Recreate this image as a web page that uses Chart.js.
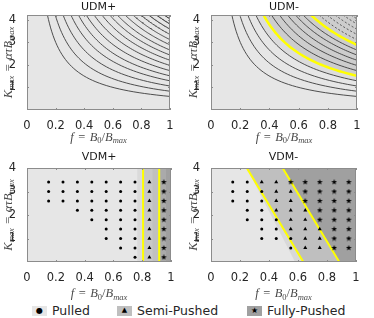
<!DOCTYPE html>
<html>
<head>
<meta charset="utf-8">
<script src="https://cdn.jsdelivr.net/npm/chart.js@4.4.1/dist/chart.umd.min.js"></script>
<style>
	body { margin: 0; background: #fff; width: 374px; height: 318px; position: relative; overflow: hidden; font-family: "DejaVu Sans", sans-serif; }
	.pane { position: absolute; width: 187px; height: 150px; }
	#legend { position: absolute; left: 0; top: 303px; width: 374px; height: 15px; font-size: 12.5px; color: #262626; }
	.item { position: absolute; top: 0; height: 15px; display: flex; align-items: center; }
	.sw { width: 15px; height: 10px; margin-right: 5px; display: flex; align-items: center; justify-content: center; color: #000; line-height: 1; }
</style>
</head>
<body>
<div class="pane" style="left:0;top:0"><canvas id="udmPlus"></canvas></div>
<div class="pane" style="left:187px;top:0"><canvas id="udmMinus"></canvas></div>
<div class="pane" style="left:0;top:150px"><canvas id="vdmPlus"></canvas></div>
<div class="pane" style="left:187px;top:150px"><canvas id="vdmMinus"></canvas></div>
<div id="legend">
	<div class="item" style="left:32px"><span class="sw" style="background:#e6e6e6;font-size:8px">●</span>Pulled</div>
	<div class="item" style="left:117px"><span class="sw" style="background:#bfbfbf;font-size:7px">▲</span>Semi-Pushed</div>
	<div class="item" style="left:247px"><span class="sw" style="background:#a0a0a0;font-size:8px">★</span>Fully-Pushed</div>
</div>
<script>
// Axis ticks
const xTicks = [0, 0.2, 0.4, 0.6, 0.8, 1];
const yTicks = [1, 2, 3, 4];

// UDM panels: contour levels of f*K (read where each curve meets the right edge f = 1)
const udmLevels = [0.60, 0.83, 1.06, 1.29, 1.51, 1.74, 1.97, 2.20, 2.43, 2.65, 2.88, 3.11, 3.34, 3.57, 3.80, 4.03];
const udmMinusYellow = [4, 10];   // indexes of the highlighted (yellow) levels
const udmMinusDashedFrom = 11;    // levels from this index on are dashed

// VDM panels: sample grid
const fCols = [0.15, 0.25, 0.35, 0.45, 0.55, 0.65, 0.75, 0.85, 0.95];
const kRows = [3.4, 3.0, 2.6, 2.2, 1.8, 1.4, 1.0, 0.6, 0.2];
// o = pulled, t = semi-pushed, s = fully-pushed, . = none
const vdmPlusGrid = [
	'ooooooots',
	'ooooooots',
	'ooooooots',
	'..ooooots',
	'...oooots',
	'....ooots',
	'....ooots',
	'.....oots',
	'......ots'
];
const vdmMinusGrid = [
	'oottsssss',
	'ooottssss',
	'ooottssss',
	'.ootttsss',
	'.ooottsss',
	'..ootttss',
	'..ooottss',
	'....ottss',
	'.........'
];
// VDM+ transitions (vertical), VDM- transitions (f at K = 4, f at K = 0)
const vdmPlusBounds = [0.806, 0.918];
const vdmMinusLine1 = [0.247, 0.637];
const vdmMinusLine2 = [0.494, 0.885];

// Colours
const PULLED = '#e6e6e6', SEMI = '#bfbfbf', FULLY = '#a0a0a0';
const udmMinusBandColors = [null, null, null, '#dcdcdc', '#cdcdcd', '#c7c7c7', '#c2c2c2', '#bdbdbd', '#b8b8b8', '#b3b3b3',
	'#a7a7a7', '#a1a1a1', '#9b9b9b', '#959595', '#8f8f8f', '#898989'];

// filled 5-point star for markers
function starImage(size) {
	const c = document.createElement('canvas');
	c.width = size; c.height = size;
	const g = c.getContext('2d');
	const r = size / 2, ri = r * 0.42;
	g.beginPath();
	for (let i = 0; i < 10; i++) {
		const a = -Math.PI / 2 + i * Math.PI / 5;
		const rr = i % 2 ? ri : r;
		g.lineTo(r + rr * Math.cos(a), r + rr * Math.sin(a));
	}
	g.closePath();
	g.fillStyle = '#000';
	g.fill();
	return c;
}
const starMark = starImage(6);

// contour of f*K = level, from the top edge to f = 1
function contour(level, kTop) {
	const f0 = level / kTop, pts = [];
	for (let j = 0; j <= 40; j++) {
		const f = f0 * Math.pow(1 / f0, j / 40);
		pts.push({ x: f, y: level / f });
	}
	return pts;
}

function gridPoints(grid, ch) {
	const pts = [];
	grid.forEach((row, r) => {
		for (let c = 0; c < row.length; c++) {
			if (row[c] === ch) pts.push({ x: fCols[c], y: kRows[r] });
		}
	});
	return pts;
}

function markerSets(grid) {
	return [
		{ data: gridPoints(grid, 'o'), showLine: false, pointStyle: 'circle', pointRadius: 1.5, pointBackgroundColor: '#000', pointBorderWidth: 0, order: -10 },
		{ data: gridPoints(grid, 't'), showLine: false, pointStyle: 'triangle', pointRadius: 2.3, pointBackgroundColor: '#000', pointBorderWidth: 0, order: -10 },
		{ data: gridPoints(grid, 's'), showLine: false, pointStyle: starMark, pointRadius: 3, order: -10 }
	];
}

function region(points, color, order) {
	return { data: points, showLine: true, borderColor: 'transparent', borderWidth: 1, pointRadius: 0, fill: 'end', backgroundColor: color, order: order };
}

function yellowLine(points, width) {
	return { data: points, showLine: true, borderColor: '#ffff00', borderWidth: width, pointRadius: 0, fill: false, order: -5 };
}

// rich text for the LaTeX-style axis labels
const xLabelParts = [['f', 'i'], ['=', 'r'], ['B', 'i'], ['0', 's'], ['/', 'o'], ['B', 'i'], ['max', 'si']];
const yLabelParts = [['K', 'i'], ['max', 'si'], ['=', 'r'], ['α', 'i'], ['τ', 'i'], ['B', 'i'], ['max', 'si']];
const SERIF = '"Liberation Serif", serif';

function partFont(kind) {
	if (kind === 'i') return 'italic 12.5px ' + SERIF;
	if (kind === 'r' || kind === 'o') return '12.5px ' + SERIF;
	if (kind === 's') return '8.5px ' + SERIF;
	return 'italic 8.5px ' + SERIF;
}

function drawRich(ctx, parts, cx, cy, angle) {
	ctx.save();
	ctx.translate(cx, cy);
	ctx.rotate(angle);
	const gap = p => (p[1] === 'r' ? 4.5 : 0);
	let total = 0;
	parts.forEach(p => { ctx.font = partFont(p[1]); total += ctx.measureText(p[0]).width + 2 * gap(p); });
	let x = -total / 2;
	ctx.textBaseline = 'alphabetic';
	ctx.textAlign = 'left';
	ctx.fillStyle = '#4a4a4a';
	parts.forEach(p => {
		ctx.font = partFont(p[1]);
		x += gap(p);
		const dy = p[1][0] === 's' ? 6.5 : 4;
		ctx.fillText(p[0], x, dy);
		x += ctx.measureText(p[0]).width + gap(p);
	});
	ctx.restore();
}

const decor = {
	id: 'decor',
	beforeDraw(chart) {
		const { ctx, chartArea: a } = chart;
		ctx.save();
		ctx.fillStyle = PULLED;
		ctx.fillRect(a.left, a.top, a.width, a.height);
		ctx.restore();
	},
	afterDraw(chart, args, o) {
		const { ctx, chartArea: a, scales } = chart;
		ctx.save();
		ctx.strokeStyle = '#8c8c8c';
		ctx.lineWidth = 1;
		ctx.beginPath();
		scales.x.ticks.forEach(t => {
			const px = Math.round(scales.x.getPixelForValue(t.value)) + 0.5;
			ctx.moveTo(px, a.bottom); ctx.lineTo(px, a.bottom - 2);
			ctx.moveTo(px, a.top); ctx.lineTo(px, a.top + 2);
		});
		scales.y.ticks.forEach(t => {
			const py = Math.round(scales.y.getPixelForValue(t.value)) + 0.5;
			ctx.moveTo(a.left, py); ctx.lineTo(a.left + 2, py);
			ctx.moveTo(a.right, py); ctx.lineTo(a.right - 2, py);
		});
		ctx.stroke();
		ctx.strokeRect(Math.round(a.left) + 0.5, Math.round(a.top) + 0.5, Math.round(a.width) - 1, Math.round(a.height) - 1);

		ctx.fillStyle = '#1a1a1a';
		ctx.font = '11px "DejaVu Sans"';
		ctx.textAlign = 'center';
		ctx.textBaseline = 'middle';
		ctx.fillText(o.title, (a.left + a.right) / 2, o.titleY);

		drawRich(ctx, xLabelParts, (a.left + a.right) / 2, o.xLabelY, 0);
		drawRich(ctx, yLabelParts, o.yLabelX, (a.top + a.bottom) / 2, -Math.PI / 2);
		ctx.restore();
	}
};

function makeChart(id, datasets, p) {
	new Chart(document.getElementById(id), {
		type: 'line',
		data: { datasets: datasets },
		plugins: [decor],
		options: {
			responsive: true,
			maintainAspectRatio: false,
			animation: false,
			layout: { padding: { left: 0, top: p.top, right: p.right, bottom: 0 } },
			elements: { line: { tension: 0 } },
			plugins: {
				legend: { display: false },
				tooltip: { enabled: false },
				filler: { drawTime: 'beforeDatasetsDraw' },
				decor: { title: p.title, titleY: p.titleY, xLabelY: p.xLabelY, yLabelX: p.yLabelX }
			},
			scales: {
				x: {
					type: 'linear', min: 0, max: 1,
					grid: { display: false }, border: { display: false },
					afterFit: s => { s.height = p.bottomH; },
					afterBuildTicks: s => { s.ticks = xTicks.map(v => ({ value: v })); },
					ticks: { padding: 1, color: '#262626', font: { family: 'DejaVu Sans', size: 11.5 }, maxRotation: 0, autoSkip: false,
						callback: v => String(v) }
				},
				y: {
					type: 'linear', min: 0, max: p.yMax,
					grid: { display: false }, border: { display: false },
					afterFit: s => { s.width = p.leftW; },
					afterBuildTicks: s => { s.ticks = yTicks.map(v => ({ value: v })); },
					ticks: { padding: 3, color: '#262626', font: { family: 'DejaVu Sans', size: 11.5 }, autoSkip: false,
						callback: v => String(v) }
				}
			}
		}
	});
}

// UDM+
const udmTop = 4.2;
makeChart('udmPlus', udmLevels.map(c => ({
	data: contour(c, udmTop), borderColor: '#3c3c3c', borderWidth: 0.9, pointRadius: 0, fill: false
})), { title: 'UDM+', titleY: 7, xLabelY: 136.5, yLabelX: 7.5, top: 15, right: 17, bottomH: 40, leftW: 27, yMax: udmTop });

// UDM-
makeChart('udmMinus', udmLevels.map((c, i) => {
	const yellow = udmMinusYellow.includes(i);
	const col = udmMinusBandColors[i];
	return {
		data: contour(c, udmTop),
		borderColor: yellow ? '#ffff00' : '#3c3c3c',
		borderWidth: yellow ? 2.5 : 0.9,
		borderDash: i >= udmMinusDashedFrom ? [2, 2] : [],
		pointRadius: 0,
		fill: col ? 'end' : false,
		backgroundColor: col || 'transparent',
		order: yellow ? -5 : 100 - i
	};
}), { title: 'UDM-', titleY: 7, xLabelY: 136.5, yLabelX: 5.5, top: 15, right: 17, bottomH: 40, leftW: 24, yMax: udmTop });

// VDM+
makeChart('vdmPlus', [
	region([{ x: 0.765, y: 0 }, { x: 1, y: 0 }], '#dadada', 50),
	region([{ x: vdmPlusBounds[0], y: 0 }, { x: 1, y: 0 }], '#c8c8c8', 49),
	region([{ x: 0.87, y: 0 }, { x: 1, y: 0 }], '#c0c0c0', 48),
	region([{ x: vdmPlusBounds[1], y: 0 }, { x: 1, y: 0 }], '#aaaaaa', 47),
	region([{ x: 0.965, y: 0 }, { x: 1, y: 0 }], '#a0a0a0', 46),
	yellowLine([{ x: vdmPlusBounds[0], y: 0 }, { x: vdmPlusBounds[0], y: 4 }], 2),
	yellowLine([{ x: vdmPlusBounds[1], y: 0 }, { x: vdmPlusBounds[1], y: 4 }], 2),
	...markerSets(vdmPlusGrid)
], { title: 'VDM+', titleY: 7, xLabelY: 143, yLabelX: 7.5, top: 18, right: 16, bottomH: 38, leftW: 27, yMax: 4 });

// VDM-
makeChart('vdmMinus', [
	region([{ x: vdmMinusLine1[0], y: 4 }, { x: 0.58, y: 0 }, { x: 1, y: 0 }], '#d8d8d8', 50),
	region([{ x: vdmMinusLine1[0], y: 4 }, { x: vdmMinusLine1[1], y: 0 }, { x: 1, y: 0 }], SEMI, 49),
	region([{ x: vdmMinusLine2[0], y: 4 }, { x: vdmMinusLine2[1], y: 0 }, { x: 1, y: 0 }], FULLY, 48),
	yellowLine([{ x: vdmMinusLine1[0], y: 4 }, { x: vdmMinusLine1[1], y: 0 }], 2),
	yellowLine([{ x: vdmMinusLine2[0], y: 4 }, { x: vdmMinusLine2[1], y: 0 }], 2),
	...markerSets(vdmMinusGrid)
], { title: 'VDM-', titleY: 7, xLabelY: 143, yLabelX: 5.5, top: 18, right: 18, bottomH: 38, leftW: 24, yMax: 4 });
</script>
</body>
</html>
